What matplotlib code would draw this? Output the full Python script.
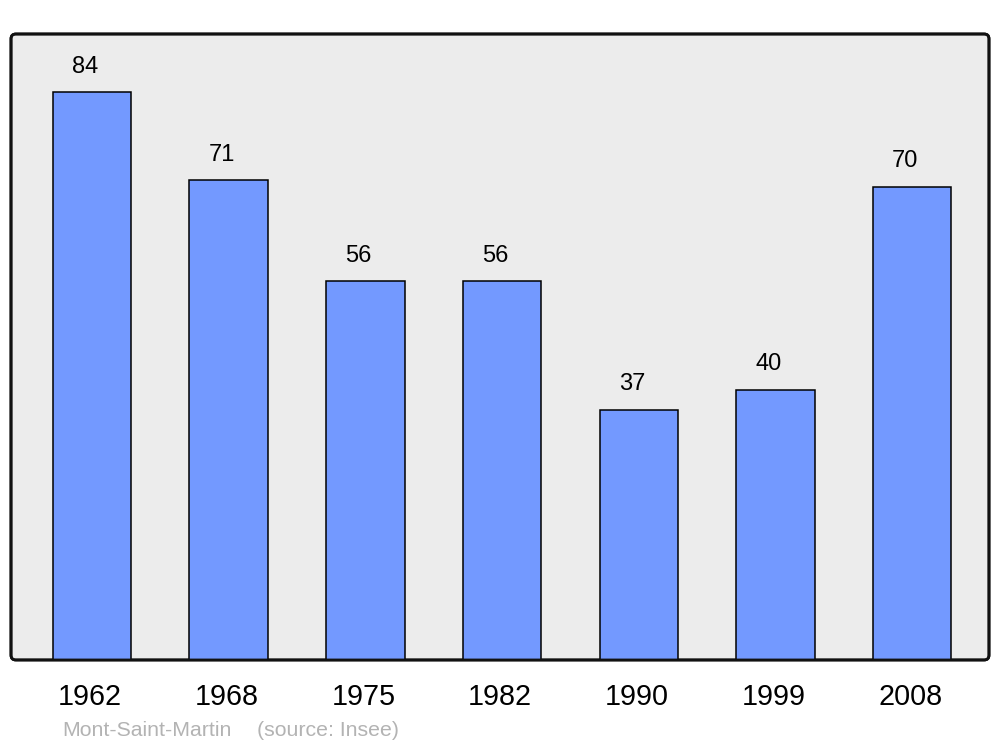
import matplotlib.pyplot as plt
from matplotlib.patches import FancyBboxPatch

plt.rcParams['font.family'] = ['Liberation Sans', 'DejaVu Sans']

years = ['1962', '1968', '1975', '1982', '1990', '1999', '2008']
population = [84, 71, 56, 56, 37, 40, 70]

fig = plt.figure(figsize=(10, 7.47), dpi=100)
ax = fig.add_axes([0.011, 0.1165, 0.978, 0.838])
ax.patch.set_visible(False)
for s in ax.spines.values():
    s.set_visible(False)

# rounded grey frame
frame = FancyBboxPatch((0, 0), 1, 1, boxstyle='round,pad=0,rounding_size=0.005',
                       mutation_aspect=978 / 626, transform=ax.transAxes,
                       facecolor='#ececec', edgecolor='#111111', linewidth=2,
                       zorder=0, clip_on=False)
ax.add_patch(frame)
frame2 = FancyBboxPatch((0, 0), 1, 1, boxstyle='round,pad=0,rounding_size=0.005',
                        mutation_aspect=978 / 626, transform=ax.transAxes,
                        facecolor='none', edgecolor='#111111', linewidth=2,
                        zorder=5, clip_on=False)
ax.add_patch(frame2)

x = list(range(len(years)))
ax.bar(x, population, width=0.575, color='#7399ff', edgecolor='black',
       linewidth=1.1, zorder=2)

for xi, v in zip(x, population):
    ax.annotate(str(v), (xi, v), xytext=(-5, 14), textcoords='offset points',
                ha='center', va='baseline', fontsize=17, color='black')

tr = ax.get_xaxis_transform()
for xi, y in zip(x, years):
    ax.text(xi - 0.015, -0.072, y, transform=tr, ha='center', va='baseline',
            fontsize=20.7, color='black')

ax.set_xlim(-0.593, 6.562)
ax.set_ylim(0, 92.6)
ax.set_xticks([])
ax.set_yticks([])

fig.text(0.062, 0.015, 'Mont-Saint-Martin', fontsize=15.3,
         color='#b3b3b3', ha='left', va='baseline')
fig.text(0.257, 0.015, '(source: Insee)', fontsize=15.3,
         color='#b3b3b3', ha='left', va='baseline')

fig.savefig('out.png', dpi=100)
